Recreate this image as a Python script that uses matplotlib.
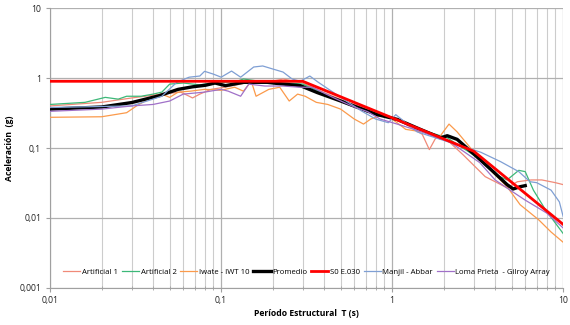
import matplotlib
matplotlib.use("Agg")
import matplotlib.pyplot as plt
from matplotlib.ticker import FixedLocator, LogLocator, NullFormatter

plt.rcParams['font.family'] = ['Open Sans', 'DejaVu Sans']

# Artificial 1 (salmon)
t_art1 = [0.01, 0.02, 0.03, 0.045, 0.058, 0.065, 0.068, 0.075, 0.087, 0.105, 0.14, 0.19, 0.23, 0.3,
          0.4, 0.55, 0.8, 1.1, 1.5, 1.65, 1.8, 2.1, 2.6, 3.5, 4.7, 5.4, 6.5, 7.5, 9.0, 10.0]
v_art1 = [0.40, 0.45, 0.52, 0.59, 0.63, 0.55, 0.52, 0.59, 0.69, 0.74, 0.85, 0.88, 0.97, 0.85,
          0.62, 0.45, 0.33, 0.25, 0.157, 0.095, 0.14, 0.13, 0.08, 0.039, 0.027, 0.033, 0.035, 0.035, 0.032, 0.03]

# Artificial 2 (green)
t_art2 = [0.01, 0.016, 0.021, 0.025, 0.028, 0.034, 0.04, 0.045, 0.05, 0.06, 0.075, 0.09, 0.12, 0.135,
          0.18, 0.25, 0.3, 0.4, 0.55, 0.8, 1.1, 1.5, 2.1, 3.1, 4.0, 4.7, 5.5, 6.0, 6.7, 7.9, 10.0]
v_art2 = [0.42, 0.45, 0.53, 0.50, 0.55, 0.55, 0.59, 0.63, 0.82, 0.85, 0.80, 0.86, 0.88, 0.97,
          0.88, 0.85, 0.82, 0.60, 0.42, 0.30, 0.25, 0.18, 0.14, 0.075, 0.042, 0.035, 0.048, 0.046, 0.025, 0.013, 0.006]

# Iwate - IWT 10 (orange)
t_iwate = [0.01, 0.02, 0.028, 0.032, 0.04, 0.045, 0.05, 0.056, 0.066, 0.08, 0.1, 0.12, 0.135, 0.15,
           0.16, 0.19, 0.22, 0.25, 0.28, 0.31, 0.36, 0.42, 0.5, 0.6, 0.68, 0.75, 0.88, 1.0, 1.2, 1.5,
           1.9, 2.15, 2.4, 3.1, 3.9, 4.7, 5.6, 7.2, 8.5, 10.0]
v_iwate = [0.275, 0.28, 0.32, 0.40, 0.55, 0.59, 0.53, 0.63, 0.65, 0.69, 0.67, 0.74, 0.65, 0.90,
           0.55, 0.69, 0.74, 0.47, 0.59, 0.55, 0.45, 0.42, 0.36, 0.26, 0.22, 0.26, 0.30, 0.26, 0.185, 0.17,
           0.146, 0.22, 0.17, 0.08, 0.044, 0.028, 0.0155, 0.0094, 0.0063, 0.0045]

# Promedio (black)
t_prom = [0.01, 0.02, 0.03, 0.043, 0.056, 0.068, 0.081, 0.092, 0.106, 0.135, 0.186, 0.23, 0.29, 0.365,
          0.5, 0.63, 0.82, 1.07, 1.46, 1.92, 2.1, 2.4, 3.13, 3.9, 4.7, 5.1, 5.6, 6.0]
v_prom = [0.36, 0.386, 0.447, 0.556, 0.69, 0.75, 0.79, 0.85, 0.78, 0.87, 0.87, 0.82, 0.78, 0.62,
          0.47, 0.38, 0.30, 0.257, 0.185, 0.14, 0.15, 0.133, 0.075, 0.046, 0.03, 0.026, 0.028, 0.029]

# S0 E.030 (red)
t_norma = [0.01, 0.3, 3.0, 10.0]
v_norma = [0.9, 0.9, 0.09, 0.0081]

# Manjil - Abbar (blue)
t_manjil = [0.01, 0.03, 0.045, 0.055, 0.065, 0.075, 0.08, 0.09, 0.1, 0.115, 0.13, 0.155, 0.175, 0.2,
            0.23, 0.26, 0.29, 0.33, 0.37, 0.5, 0.66, 0.8, 0.95, 1.05, 1.4, 3.3, 4.3, 5.5, 6.4, 7.0, 8.5, 9.5, 10.0]
v_manjil = [0.38, 0.40, 0.55, 0.87, 1.03, 1.07, 1.25, 1.14, 1.03, 1.26, 1.03, 1.44, 1.49, 1.35,
            1.22, 0.97, 0.90, 1.07, 0.87, 0.53, 0.34, 0.26, 0.23, 0.30, 0.17, 0.087, 0.064, 0.046, 0.033, 0.032, 0.025, 0.017, 0.0105]

# Loma Prieta - Gilroy Array (purple)
t_loma = [0.01, 0.02, 0.03, 0.04, 0.05, 0.06, 0.08, 0.1, 0.11, 0.13, 0.145, 0.18, 0.23, 0.29, 0.34,
          0.45, 0.58, 0.72, 0.85, 1.07, 1.5, 2.2, 3.25, 4.0, 4.9, 6.0, 8.0, 10.0]
v_loma = [0.335, 0.36, 0.40, 0.42, 0.47, 0.59, 0.63, 0.69, 0.65, 0.55, 0.82, 0.77, 0.77, 0.74, 0.74,
          0.53, 0.40, 0.33, 0.26, 0.22, 0.17, 0.12, 0.062, 0.035, 0.025, 0.018, 0.0118, 0.0072]

series = [
    ("Artificial 1", t_art1, v_art1, "#f08a78", 0.9),
    ("Artificial 2", t_art2, v_art2, "#3cb878", 0.9),
    ("Iwate - IWT 10", t_iwate, v_iwate, "#fb9a4b", 0.9),
    ("Promedio", t_prom, v_prom, "#000000", 2.4),
    ("S0 E.030", t_norma, v_norma, "#ff0000", 2.0),
    ("Manjil - Abbar", t_manjil, v_manjil, "#7f9fd4", 0.9),
    ("Loma Prieta  - Gilroy Array", t_loma, v_loma, "#a070c8", 0.9),
]

fig = plt.figure(figsize=(5.7, 3.25), dpi=100)
ax = fig.add_axes([0.088, 0.114, 0.900, 0.861])

for name, t, v, c, lw in series:
    ax.plot(t, v, color=c, lw=lw, label=name, zorder=3 if name != "S0 E.030" else 4)

ax.set_xscale("log")
ax.set_yscale("log")
ax.set_xlim(0.01, 10)
ax.set_ylim(0.001, 10)

ax.xaxis.set_major_locator(FixedLocator([0.01, 0.1, 1, 10]))
ax.xaxis.set_minor_locator(LogLocator(base=10, subs=range(2, 10)))
ax.xaxis.set_minor_formatter(NullFormatter())
ax.yaxis.set_major_locator(FixedLocator([0.001, 0.01, 0.1, 1, 10]))
ax.yaxis.set_minor_locator(FixedLocator([]))
ax.set_xticklabels(["0,01", "0,1", "1", "10"])
ax.set_yticklabels(["0,001", "0,01", "0,1", "1", "10"])

ax.grid(True, which="major", color="#b0b0b0", lw=0.9)
ax.grid(True, which="minor", axis="x", color="#cccccc", lw=0.8)
for s in ["top", "right"]:
    ax.spines[s].set_visible(False)
ax.spines["left"].set_color("#a0a0a0")
ax.spines["bottom"].set_color("#a0a0a0")
ax.tick_params(axis="both", which="both", colors="#a0a0a0", labelcolor="#222222", labelsize=6.2, length=3)
ax.tick_params(axis="x", which="minor", length=3, direction="inout")
ax.tick_params(axis="x", which="major", pad=3)

ax.set_xlabel("Período Estructural  T (s)", fontsize=6.2, fontweight="bold", labelpad=3)
ax.set_ylabel("Aceleración  (g)", fontsize=6.2, fontweight="bold", labelpad=4)

leg = ax.legend(loc="lower center", bbox_to_anchor=(0.5, 0.035), ncol=7, fontsize=5.6,
                frameon=False, handlelength=2.2, handletextpad=0.2, columnspacing=0.5,
                borderaxespad=0.2, borderpad=0.1)

fig.savefig("out.png", dpi=100)
